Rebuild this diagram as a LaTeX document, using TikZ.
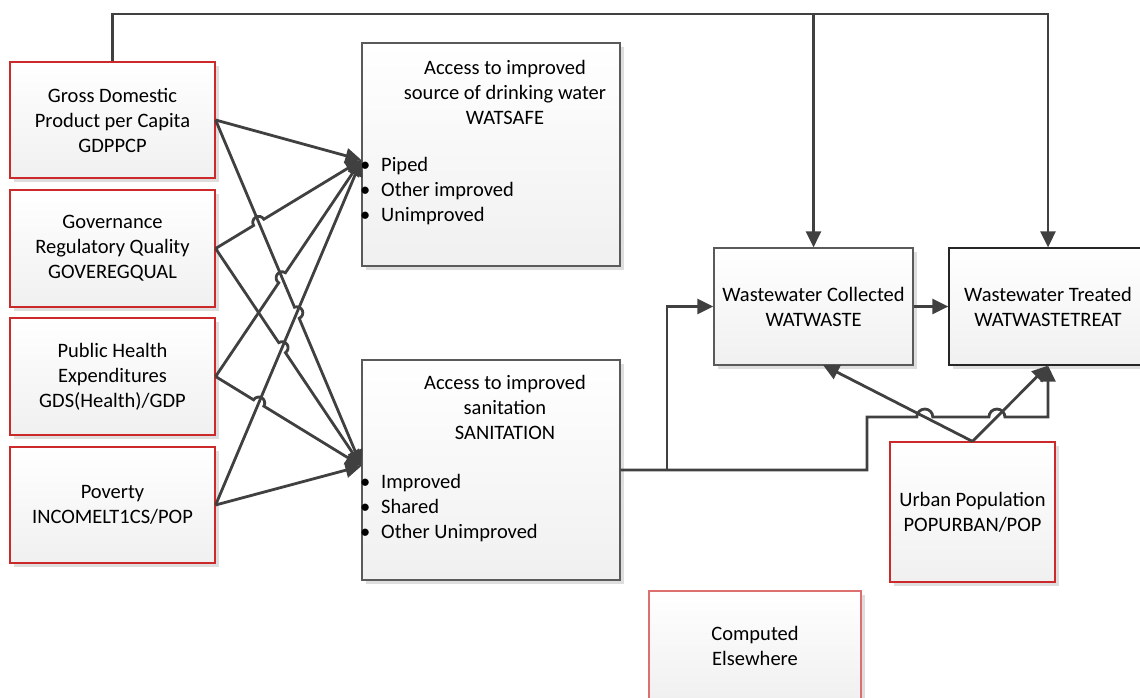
\documentclass[tikz,border=0pt]{standalone}
\usepackage{fontspec}
\setmainfont{Carlito}
\usetikzlibrary{arrows.meta,calc,shadows}

\definecolor{wire}{HTML}{404040}
\definecolor{inputred}{HTML}{CC2A2A}
\definecolor{elseref}{HTML}{DC7070}
\definecolor{greyedge}{HTML}{5A5A5A}
\definecolor{boxbottom}{HTML}{F0F0F0}

% wire drawn from #3 to #5 with a semicircular jump over the crossing #4
\newcommand{\jumpwire}[5][6pt]{%
  \draw[#2] let \p1=($(#5)-(#3)$), \n1={atan2(\y1,\x1)} in
    (#3) -- ($(#4)!#1!(#3)$) arc[start angle=\n1+180, end angle=\n1, radius=#1] -- (#5);}

\begin{document}
\begin{tikzpicture}[x=1pt,y=-1pt,
  box/.style={draw, line width=1.2pt, top color=white, bottom color=boxbottom,
    drop shadow={shadow xshift=4pt, shadow yshift=-4pt, fill=black!13, opacity=1},
    inner sep=0pt, align=center, font=\fontsize{20.5}{25}\selectfont},
  inbox/.style={box, draw=inputred},
  outbox/.style={box, draw=greyedge},
  txt/.style={inner sep=0pt, font=\fontsize{20.5}{25}\selectfont},
  conn/.style={draw=wire, line width=2.8pt},
  arr/.style={conn, -{Triangle[length=16pt,width=15pt]}}]
\useasboundingbox (0,0) rectangle (1140,698);

% input variables
\node[inbox, minimum width=205pt, minimum height=116pt] (gdp) at (112.5,120)
  {Gross Domestic\\Product per Capita\\GDPPCP};
\node[inbox, minimum width=205pt, minimum height=117pt] (gov) at (112.5,248.5)
  {Governance\\Regulatory Quality\\GOVEREGQUAL};
\node[inbox, minimum width=205pt, minimum height=117pt] (hlth) at (112.5,376.5)
  {Public Health\\Expenditures\\GDS(Health)/GDP};
\node[inbox, minimum width=205pt, minimum height=116pt] (pov) at (112.5,505)
  {Poverty\\INCOMELT1CS/POP};

% access boxes
\node[outbox, minimum width=258pt, minimum height=223pt] (wsafe) at (491,154.5) {};
\node[txt, align=center] (wsafehead) at (505,92)
  {Access to improved\\source of drinking water\\WATSAFE};
\node[txt, align=left, anchor=west] (wsafelist) at (360,191)
  {\makebox[21pt][l]{\textbullet}Piped\\\makebox[21pt][l]{\textbullet}Other improved\\\makebox[21pt][l]{\textbullet}Unimproved};

\node[outbox, minimum width=258pt, minimum height=220pt] (sani) at (491,470) {};
\node[txt, align=center] (sanihead) at (505,407)
  {Access to improved\\sanitation\\SANITATION};
\node[txt, align=left, anchor=west] (sanilist) at (360,508)
  {\makebox[21pt][l]{\textbullet}Improved\\\makebox[21pt][l]{\textbullet}Shared\\\makebox[21pt][l]{\textbullet}Other Unimproved};

% wastewater boxes
\node[outbox, minimum width=199pt, minimum height=117pt] (wwc) at (813.5,306.5)
  {Wastewater Collected\\WATWASTE};
\node[box, draw=black!85, minimum width=198pt, minimum height=117pt] (wwt) at (1048,306.5)
  {Wastewater Treated\\WATWASTETREAT};

\node[inbox, minimum width=165pt, minimum height=140pt] (urb) at (972.5,512)
  {Urban Population\\POPURBAN/POP};
\node[box, draw=elseref, minimum width=212pt, minimum height=109pt] (comp) at (755,645.5)
  {Computed\\Elsewhere};

% connection points
\coordinate (wIn) at ([yshift=-5.5pt]wsafe.west);
\coordinate (sIn) at ([yshift=4pt]sani.west);
\coordinate (xGV) at (intersection of gdp.east--sIn and gov.east--wIn);
\coordinate (xGH) at (intersection of gdp.east--sIn and hlth.east--wIn);
\coordinate (xGP) at (intersection of gdp.east--sIn and pov.east--wIn);
\coordinate (xVP) at (intersection of gov.east--sIn and pov.east--wIn);
\coordinate (xHP) at (intersection of hlth.east--sIn and pov.east--wIn);

% drivers of water and sanitation access
\draw[arr] (gdp.east) -- (wIn);
\jumpwire{arr}{gdp.east}{xGP}{sIn}
\jumpwire{arr}{gov.east}{xGV}{wIn}
\jumpwire{arr}{gov.east}{xVP}{sIn}
\jumpwire{arr}{hlth.east}{xGH}{wIn}
\jumpwire{arr}{hlth.east}{xHP}{sIn}
\draw[arr] (pov.east) -- (wIn);
\draw[arr] (pov.east) -- (sIn);

% income feeds both wastewater stages
\coordinate (topL) at (112.5,14);
\coordinate (topM) at (wwc.north |- topL);
\coordinate (topR) at (wwt.north |- topL);
\draw[arr, line join=miter] (gdp.north) -- (topL) -- (topR) -- (wwt.north);
\draw[arr] (topM) -- (wwc.north);

% urban population feeds both wastewater stages
\coordinate (wwcB) at (823,365);
\draw[arr] (urb.north) -- (wwcB);
\draw[arr] (urb.north) -- (wwt.south);

% sanitation feeds both wastewater stages
\coordinate (split) at (667,470);
\coordinate (stepA) at (867,470);
\coordinate (stepB) at (867,417);
\coordinate (stepC) at (wwt.south |- stepB);
\coordinate (xU1) at (intersection of stepB--stepC and urb.north--wwcB);
\coordinate (xU2) at (intersection of stepB--stepC and urb.north--wwt.south);
\draw[arr] (split) |- (wwc.west);
\draw[arr] (sani.east) -- (split) -- (stepA) -- (stepB)
  -- ([xshift=-8pt]xU1) arc[start angle=180, end angle=0, radius=8pt]
  -- ([xshift=-8pt]xU2) arc[start angle=180, end angle=0, radius=8pt]
  -- (stepC) -- (wwt.south);
\draw[arr] (wwc.east) -- (wwt.west);
\end{tikzpicture}
\end{document}
